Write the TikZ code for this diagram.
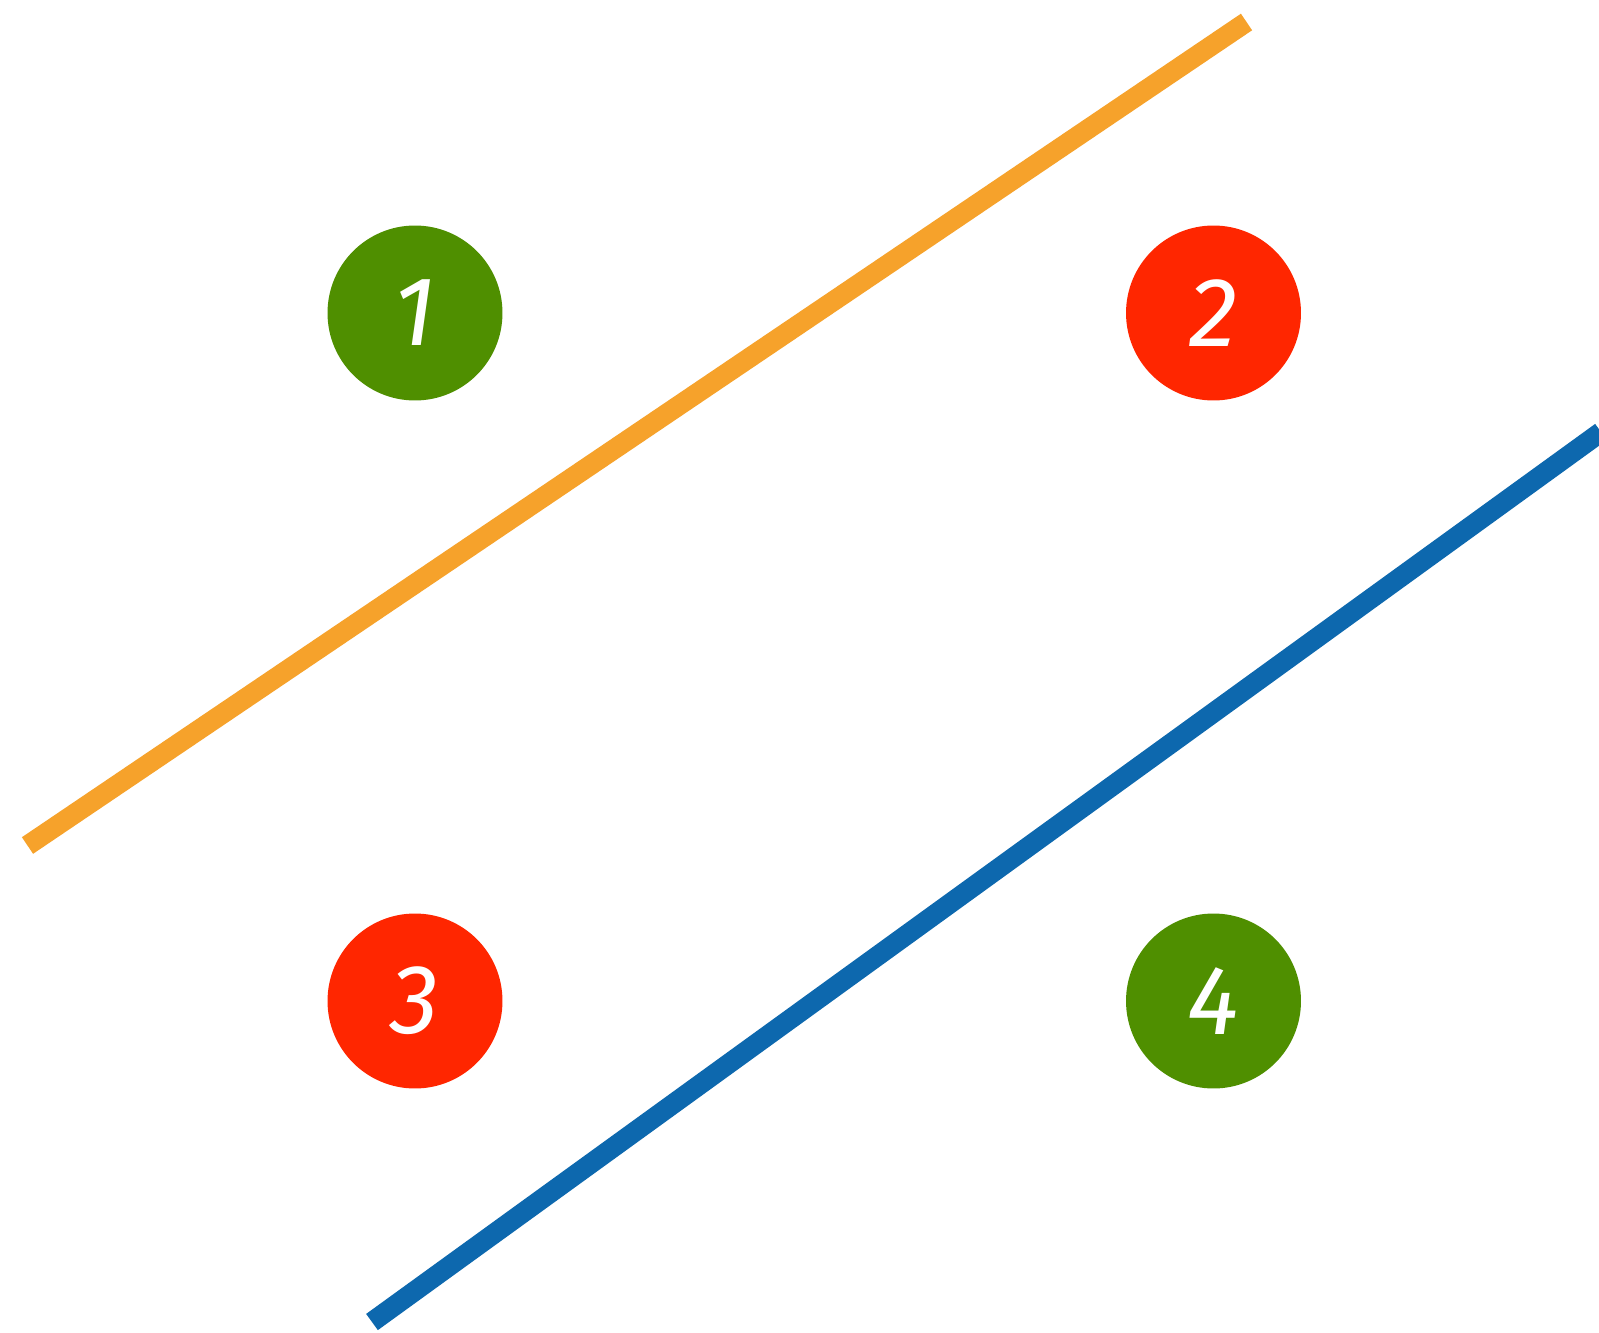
\documentclass[tikz,border=0pt]{standalone}
\usepackage{xcolor}
\usepackage{fontspec}
\setsansfont{Fira Sans}
\usepackage{tikz}
\usetikzlibrary{positioning}

\definecolor{leafgreen}{HTML}{4F8F00}
\definecolor{signalred}{HTML}{FF2600}
\definecolor{lineorange}{HTML}{F6A22B}
\definecolor{lineblue}{HTML}{0D68AE}

\begin{document}
\begin{tikzpicture}[
  x=0.02cm, y=-0.02cm,
  font=\sffamily\itshape\fontsize{56}{56}\selectfont,
  dot/.style={circle, fill=#1, text=white, inner sep=0pt, minimum size=3.5cm},
  bar/.style={line width=0.4cm, color=#1},
]
\useasboundingbox[fill=white] (0,0) rectangle (1599,1332);

% separating lines
\coordinate (o1) at (27.5,845.5);
\coordinate (o2) at (1246.5,22);
\coordinate (b1) at (372,1322);
\coordinate (b2) at (1601,432);
\draw[bar=lineorange] (o1) -- (o2);
\draw[bar=lineblue] (b1) -- (b2);

% numbered dots
\node[dot=leafgreen] (d1) at (415,313) {1};
\node[dot=signalred] (d2) at (1213.5,313) {2};
\node[dot=signalred] (d3) at (415,1001) {3};
\node[dot=leafgreen] (d4) at (1213.5,1001) {4};
\end{tikzpicture}
\end{document}
